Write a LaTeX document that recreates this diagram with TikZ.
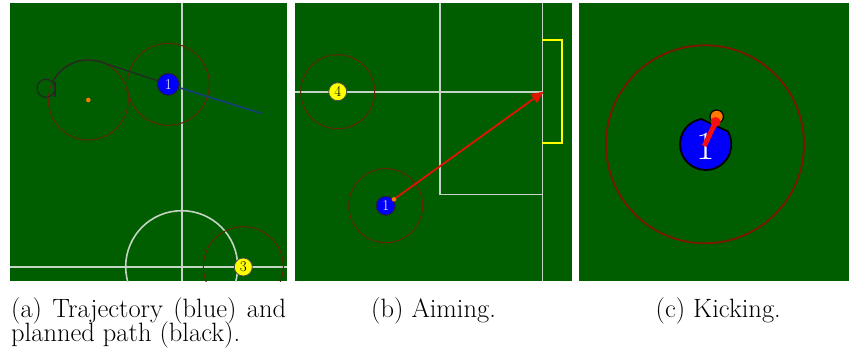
\documentclass[tikz,border=0pt]{standalone}
\usepackage{fontspec}
\usetikzlibrary{arrows.meta,calc}
\definecolor{field}{RGB}{0,94,0}
\definecolor{linewhite}{RGB}{196,212,196}
\definecolor{zonered}{RGB}{95,38,8}
\definecolor{zonedeep}{RGB}{125,22,0}
\definecolor{botblue}{RGB}{0,0,250}
\definecolor{botyellow}{RGB}{255,255,0}
\definecolor{trajblue}{RGB}{25,62,120}
\definecolor{kickred}{RGB}{225,20,0}
\definecolor{ballorange}{RGB}{255,120,0}
\definecolor{stickred}{RGB}{245,15,15}
\begin{document}
\begin{tikzpicture}[x=1pt,y=-1pt,
  fieldline/.style={draw=linewhite, line width=1.6},
  zone/.style={draw=zonered, line width=1},
  bluebot/.style={circle, fill=botblue, draw=black!85, line width=1, inner sep=0, text=white, font=\fontsize{15}{15}\selectfont},
  yellowbot/.style={circle, fill=botyellow, draw=black!70, line width=0.8, inner sep=0, text=black, font=\fontsize{15}{15}\selectfont},
  balldot/.style={circle, fill=ballorange, inner sep=0},
  traj/.style={draw=trajblue, line width=1.6},
  planned/.style={draw=black!85, line width=1.2},
  kickarrow/.style={draw=kickred, line width=1.8, -{Triangle[length=12pt,width=11pt]}},
  goalbox/.style={draw=botyellow, line width=1.8},
  capt/.style={anchor=base west, inner sep=0, font=\fontsize{26.5}{26.5}\selectfont}]
\useasboundingbox (0,0) rectangle (849,356);
\fill[white] (0,0) rectangle (849,356);

% ---------------- panel (a)
\begin{scope}
\clip (10,3) rectangle (287,281);
\fill[field] (10,3) rectangle (287,281);
\draw[fieldline] (181.7,3) -- (181.7,281);
\draw[fieldline] (10,266.7) -- (287,266.7);
\draw[fieldline] (181.7,266.7) circle[radius=56];
\coordinate (ac) at (88.3,100);
\draw[zone] (ac) circle[radius=40];
\draw[zone] (168.3,84.3) circle[radius=41];
\draw[zone] (243.3,266.7) circle[radius=40];
\node[balldot, minimum size=4.6] (adot) at (ac) {};
\node[circle, draw=black!85, line width=1.2, minimum size=18, inner sep=0] (aloop) at (46,88.3) {};
\draw[planned] (55,81.5) -- (55,96.5);
\coordinate (astart) at ($(ac)+(-151.6:40)$);
\node[bluebot, minimum size=22] (a1) at (168.3,84.3) {1};
\coordinate (atraj) at (261,113.3);
\draw[traj] (a1) -- (atraj);
\draw[planned] (aloop.north east) to[out=-60,in=-151.6+90] (astart)
  arc[start angle=-151.6, end angle=-74, radius=40] -- (a1);
\node[yellowbot, minimum size=18] (a3) at (243.3,267) {3};
\end{scope}

% ---------------- panel (b)
\begin{scope}
\clip (295,3) rectangle (572,281);
\fill[field] (295,3) rectangle (572,281);
\draw[fieldline] (542.3,3) -- (542.3,281);
\draw[fieldline] (440,3) -- (440,194.3) -- (542.3,194.3);
\draw[fieldline] (295,91.7) -- (542.3,91.7);
\draw[goalbox] (542.3,40) -- (561.7,40) -- (561.7,143.3) -- (542.3,143.3);
\draw[zone] (337.7,91.7) circle[radius=37];
\draw[zone] (385.7,205.7) circle[radius=37];
\node[yellowbot, minimum size=18] (b4) at (337.7,91.7) {4};
\node[bluebot, minimum size=19] (b1) at (385.7,205.7) {1};
\node[balldot, minimum size=4.6] (bball) at (394,199.3) {};
\coordinate (bgoal) at (543.5,91.7);
\draw[kickarrow] (bball) -- (bgoal);
\end{scope}

% ---------------- panel (c)
\begin{scope}
\clip (579,3) rectangle (849,281);
\fill[field] (579,3) rectangle (849,281);
\draw[draw=zonedeep, line width=1.8] (705,144.3) circle[radius=99];
\coordinate (c1) at (705.7,144.3);
\filldraw[fill=botblue, draw=black, line width=1.8] (c1) ++(-100:25.7)
  arc[start angle=-100, end angle=-390, radius=25.7] -- cycle;
\node[inner sep=0, text=white, font=\fontsize{40}{40}\selectfont] (c1num) at (705.3,146) {1};
\node[balldot, draw=black, line width=1.2, minimum size=13.4] (cball) at (716.7,116.7) {};
\coordinate (chead) at (715.6,122);
\draw[stickred, line width=5] (704.3,146) -- (chead);
\fill[stickred] (chead) circle[radius=5];
\end{scope}

% ---------------- captions
\node[capt] (capa1) at (11,317.3) {\hbox to 275pt{(a) Trajectory (blue) and}};
\node[capt] (capa2) at (11,341.3) {planned path (black).};
\node[capt] (capb) at (371,317.3) {(b) Aiming.};
\node[capt] (capc) at (655.5,317.3) {(c) Kicking.};
\end{tikzpicture}
\end{document}
